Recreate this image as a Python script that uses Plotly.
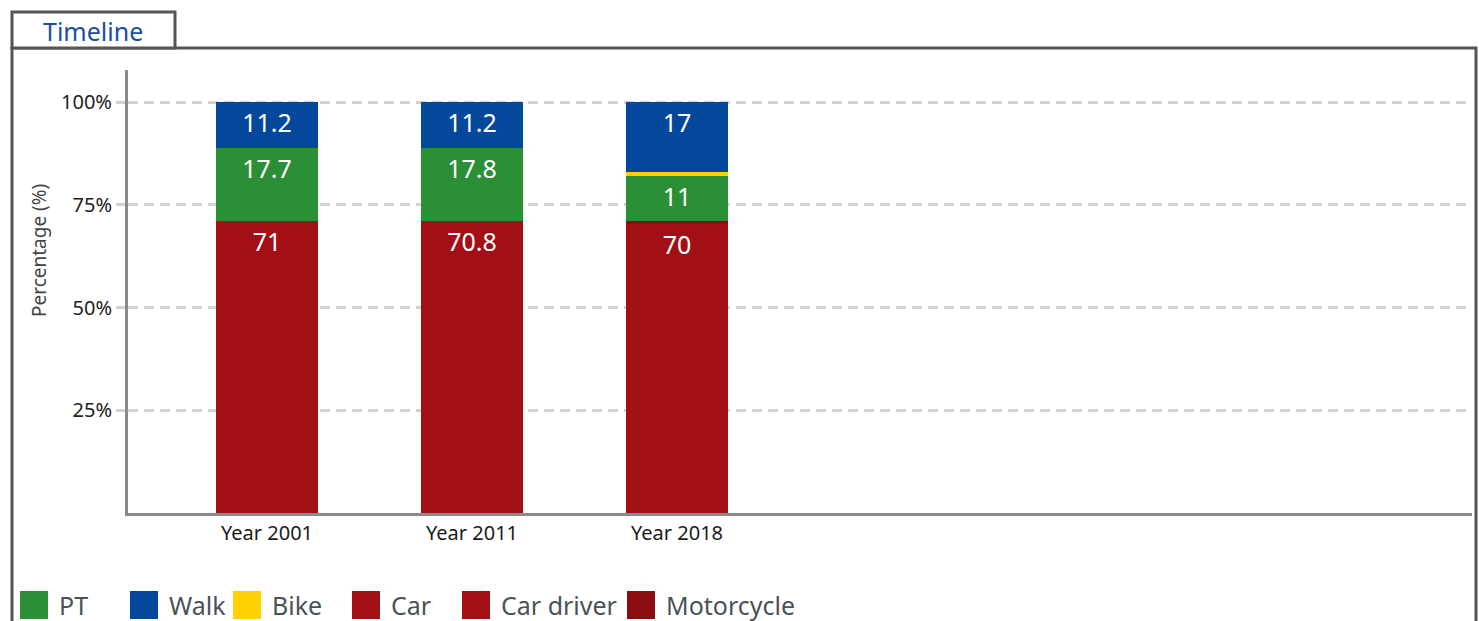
import plotly.graph_objects as go

# ---------------- data ----------------
years = ["Year 2001", "Year 2011", "Year 2018"]
car = [0, 0, 0]
car_driver = [71, 70.8, 70]
motorcycle = [0, 0, 0.8]
pt = [17.7, 17.8, 11]
bike = [0, 0, 0.8]
walk = [11.2, 11.2, 17]

# stacking order (bottom -> top)
stack_names = ["Car", "Car driver", "Motorcycle", "PT", "Bike", "Walk"]
stack_values = [car, car_driver, motorcycle, pt, bike, walk]

# legend order
legend_names = ["PT", "Walk", "Bike", "Car", "Car driver", "Motorcycle"]
colors = {
    "PT": "#2b8f35",
    "Walk": "#03489a",
    "Bike": "#ffd200",
    "Car": "#a20f15",
    "Car driver": "#a20f15",
    "Motorcycle": "#8c0e12",
}

y_ticks = [25, 50, 75, 100]
y_tick_text = ["25%", "50%", "75%", "100%"]

FONT = "Noto Sans"

# ---------------- geometry helpers ----------------
W, H = 1479, 621
L, R, T, B = 128, 1472, 70, 513


def xp(px):
    return (px - L) / (R - L)


def yp(py):
    return (B - py) / (B - T)


fig = go.Figure()
for name, vals in zip(stack_names, stack_values):
    txt = [("%g" % v) if v >= 5 else "" for v in vals]
    fig.add_trace(go.Bar(
        x=years, y=vals, name=name,
        marker=dict(color=colors[name], line=dict(width=0)),
        text=txt, texttemplate="%{text}",
        textposition="inside", insidetextanchor="end",
        textfont=dict(color="white", size=25, family=FONT),
        width=0.5, showlegend=False, hoverinfo="skip",
    ))

fig.update_layout(
    barmode="stack", barnorm="percent",
    width=W, height=H,
    margin=dict(l=L, r=W - R, t=T, b=H - B),
    paper_bgcolor="white", plot_bgcolor="white",
    font=dict(family=FONT, color="#333"),
)

fig.update_xaxes(
    type="category", range=[-0.678, 5.878],
    showline=True, linecolor="#8a8a8a", linewidth=3,
    showgrid=False, ticks="", tickfont=dict(size=20, color="#1a1a1a", family=FONT),
)
fig.update_yaxes(
    range=[0, 107.8], tickvals=y_ticks, ticktext=y_tick_text,
    showline=True, linecolor="#8a8a8a", linewidth=3,
    showgrid=True, gridcolor="#d2d2d2", gridwidth=3, griddash="10px,6px",
    ticks="outside", ticklen=9, tickcolor="#d2d2d2", tickwidth=3,
    tickfont=dict(size=20, color="#222", family=FONT),
    zeroline=False,
)

shapes = []
# outer frame
shapes.append(dict(type="rect", xref="paper", yref="paper",
                   x0=xp(12), x1=xp(1476), y0=yp(660), y1=yp(48),
                   line=dict(color="#555", width=3), fillcolor="rgba(0,0,0,0)", layer="below"))
# tab
shapes.append(dict(type="rect", xref="paper", yref="paper",
                   x0=xp(12), x1=xp(175), y0=yp(48), y1=yp(12),
                   line=dict(color="#555", width=3), fillcolor="white", layer="below"))

annotations = []
annotations.append(dict(text="Timeline", xref="paper", yref="paper", x=xp(93), y=yp(31),
                        showarrow=False, xanchor="center", yanchor="middle",
                        font=dict(size=25, color="#1a4f9f", family=FONT)))
annotations.append(dict(text="Percentage (%)", xref="paper", yref="paper", x=xp(39), y=yp(251),
                        showarrow=False, textangle=-90, xanchor="center", yanchor="middle",
                        font=dict(size=19, color="#444", family=FONT)))

# manual legend
legend_x = [20, 130, 233, 352, 462, 627]
for name, lx in zip(legend_names, legend_x):
    shapes.append(dict(type="rect", xref="paper", yref="paper",
                       x0=xp(lx), x1=xp(lx + 28), y0=yp(619), y1=yp(591),
                       line=dict(width=0), fillcolor=colors[name]))
    annotations.append(dict(text=name, xref="paper", yref="paper", x=xp(lx + 37), y=yp(605),
                            showarrow=False, xanchor="left", yanchor="middle",
                            font=dict(size=25, color="#4a5258", family=FONT)))

fig.update_layout(shapes=shapes, annotations=annotations)

fig.write_html("out.html")
